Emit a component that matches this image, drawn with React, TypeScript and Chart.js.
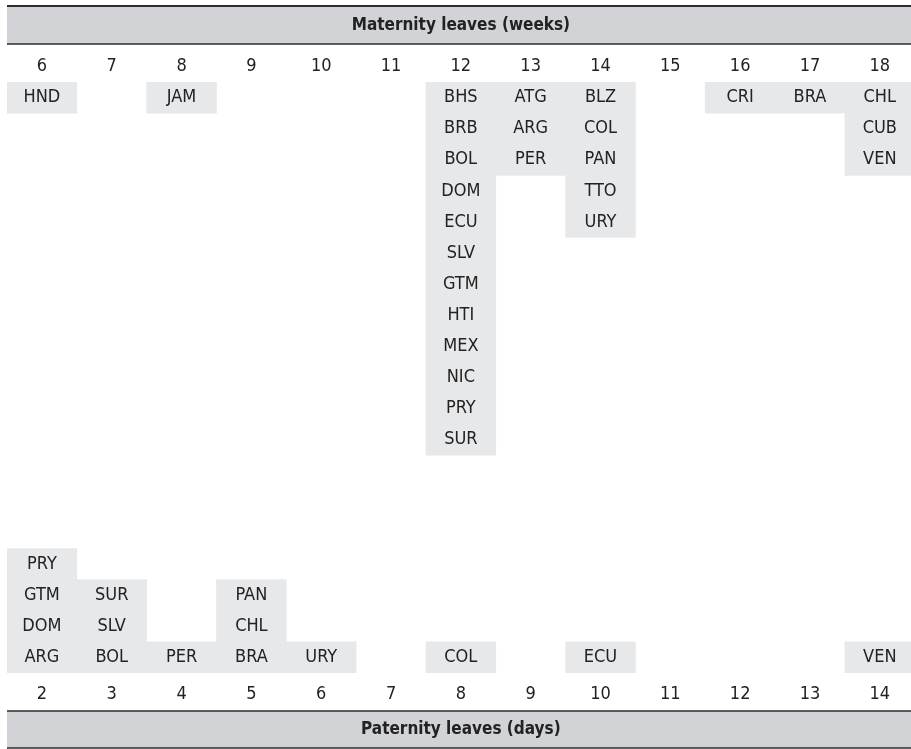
import React, { useEffect, useRef } from "react";
import { Chart, registerables } from "chart.js";

Chart.register(...registerables);

// ---------- data ----------
const weekLabels = ["6", "7", "8", "9", "10", "11", "12", "13", "14", "15", "16", "17", "18"];
const dayLabels = ["2", "3", "4", "5", "6", "7", "8", "9", "10", "11", "12", "13", "14"];

// maternity leave (weeks): countries listed from top to bottom, one list per column
const maternityCountries: string[][] = [
  ["HND"],
  [],
  ["JAM"],
  [],
  [],
  [],
  ["BHS", "BRB", "BOL", "DOM", "ECU", "SLV", "GTM", "HTI", "MEX", "NIC", "PRY", "SUR"],
  ["ATG", "ARG", "PER"],
  ["BLZ", "COL", "PAN", "TTO", "URY"],
  [],
  ["CRI"],
  ["BRA"],
  ["CHL", "CUB", "VEN"],
];

// paternity leave (days): countries listed from top to bottom, one list per column
const paternityCountries: string[][] = [
  ["PRY", "GTM", "DOM", "ARG"],
  ["SUR", "SLV", "BOL"],
  ["PER"],
  ["PAN", "CHL", "BRA"],
  ["URY"],
  [],
  ["COL"],
  [],
  ["ECU"],
  [],
  [],
  [],
  ["VEN"],
];

const maternityTitle = "Maternity leaves (weeks)";
const paternityTitle = "Paternity leaves (days)";
const TOTAL_ROWS = 19;

// ---------- styles ----------
const FONT = '"DejaVu Sans Condensed", "DejaVu Sans", sans-serif';
const TEXT = "#222222";
const CELL = "#e7e8ea";
const BAND = "#d1d3d6";
const RULE = "#2e2e2e";

const maternityBars = maternityCountries.map((c) => (c.length ? [0, c.length] : null));
const paternityBars = paternityCountries.map((c) =>
  c.length ? [TOTAL_ROWS - c.length, TOTAL_ROWS] : null
);

const bandsPlugin = {
  id: "bands",
  beforeDraw(chart: any) {
    const { ctx, chartArea, width } = chart;
    const left = chartArea.left;
    ctx.save();
    ctx.fillStyle = BAND;
    ctx.fillRect(left, 6, width - left, 38);
    ctx.fillRect(left, 711, width - left, 37);
    ctx.strokeStyle = RULE;
    ctx.lineWidth = 2;
    ctx.beginPath();
    ctx.moveTo(left, 6);
    ctx.lineTo(width, 6);
    ctx.stroke();
    ctx.lineWidth = 1.5;
    ctx.beginPath();
    ctx.moveTo(left, 44);
    ctx.lineTo(width, 44);
    ctx.moveTo(left, 711);
    ctx.lineTo(width, 711);
    ctx.moveTo(left, 748);
    ctx.lineTo(width, 748);
    ctx.stroke();
    ctx.restore();
  },
};

const cellLabelsPlugin = {
  id: "cellLabels",
  afterDatasetsDraw(chart: any) {
    const { ctx } = chart;
    const xs = chart.scales.x;
    const ys = chart.scales.y;
    ctx.save();
    ctx.fillStyle = TEXT;
    ctx.font = `18px ${FONT}`;
    ctx.textAlign = "center";
    ctx.textBaseline = "middle";
    maternityCountries.forEach((list, i) => {
      list.forEach((code, j) => {
        ctx.fillText(code, xs.getPixelForValue(i), ys.getPixelForValue(j + 0.5));
      });
    });
    paternityCountries.forEach((list, i) => {
      const start = TOTAL_ROWS - list.length;
      list.forEach((code, j) => {
        ctx.fillText(code, xs.getPixelForValue(i), ys.getPixelForValue(start + j + 0.5));
      });
    });
    ctx.restore();
  },
};

export default function App() {
  const ref = useRef<HTMLCanvasElement | null>(null);

  useEffect(() => {
    document.body.style.margin = "0";
    document.body.style.overflow = "hidden";
    if (!ref.current) return;
    const chart = new Chart(ref.current, {
      type: "bar",
      data: {
        labels: dayLabels,
        datasets: [
          {
            label: "Maternity",
            data: maternityBars as any,
            backgroundColor: CELL,
            borderWidth: 0,
            borderSkipped: false,
            barPercentage: 1,
            categoryPercentage: 1,
            grouped: false,
          } as any,
          {
            label: "Paternity",
            data: paternityBars as any,
            backgroundColor: CELL,
            borderWidth: 0,
            borderSkipped: false,
            barPercentage: 1,
            categoryPercentage: 1,
            grouped: false,
          } as any,
        ],
      },
      options: {
        animation: false,
        responsive: false,
        maintainAspectRatio: false,
        layout: { padding: { left: 7, right: 1.3, top: 0, bottom: 0 } },
        plugins: {
          legend: { display: false },
          tooltip: { enabled: false },
        },
        scales: {
          x: {
            type: "category",
            position: "bottom",
            grid: { display: false, drawTicks: false },
            border: { display: false },
            ticks: { color: TEXT, font: { family: FONT, size: 18 }, padding: 10.2, maxRotation: 0, autoSkip: false },
            title: {
              display: true,
              text: paternityTitle,
              color: TEXT,
              font: { family: FONT, size: 17, weight: "bold" },
              padding: { top: 0, bottom: 9.5 },
            },
            afterFit: (s: any) => {
              s.height = 76;
            },
          },
          x2: {
            type: "category",
            position: "top",
            labels: weekLabels,
            grid: { display: false, drawTicks: false },
            border: { display: false },
            ticks: { color: TEXT, font: { family: FONT, size: 18 }, padding: 5.2, maxRotation: 0, autoSkip: false },
            title: {
              display: true,
              text: maternityTitle,
              color: TEXT,
              font: { family: FONT, size: 17, weight: "bold" },
              padding: { top: 15.5, bottom: 0 },
            },
            afterFit: (s: any) => {
              s.height = 82;
            },
          },
          y: {
            type: "linear",
            display: false,
            reverse: true,
            min: 0,
            max: TOTAL_ROWS,
          },
        },
      } as any,
      plugins: [bandsPlugin, cellLabelsPlugin],
    });
    return () => chart.destroy();
  }, []);

  return (
    <div style={{ width: 911, height: 749, overflow: "hidden", position: "relative" }}>
      <canvas ref={ref} width={916} height={749} style={{ display: "block" }} />
    </div>
  );
}
